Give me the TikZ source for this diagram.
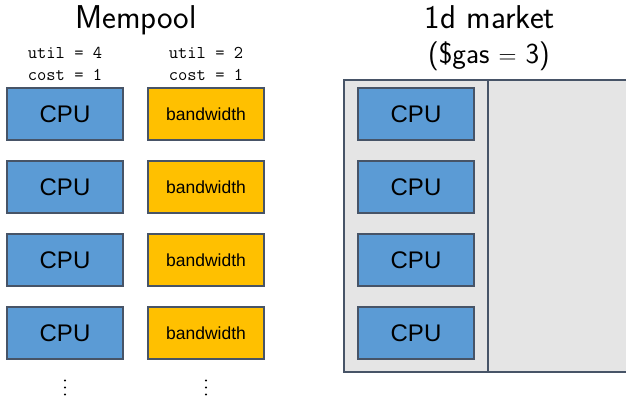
\documentclass[tikz,border=0pt]{standalone}
\usepackage{fontspec}
\newfontfamily\boxfont{Liberation Sans}
\definecolor{cpublue}{HTML}{5B9BD5}
\definecolor{bwyellow}{HTML}{FFC000}
\definecolor{edgec}{HTML}{475467}
\definecolor{mktgray}{HTML}{E5E5E5}
\tikzset{
  unitbox/.style={draw=edgec, line width=1.6pt, minimum width=116pt, minimum height=52pt, inner sep=0pt},
  cpubox/.style={unitbox, fill=cpublue, font=\boxfont\fontsize{24}{26}\selectfont},
  bwbox/.style={unitbox, fill=bwyellow, font=\boxfont\fontsize{17.5}{20}\selectfont},
  titletext/.style={font=\sffamily\fontsize{33}{36}\selectfont, inner sep=0pt, anchor=base},
  subtext/.style={font=\sffamily\fontsize{29}{31}\selectfont, inner sep=0pt, anchor=base},
  monotext/.style={font=\ttfamily\fontsize{18}{23}\selectfont, inner sep=0pt, anchor=base},
  dotmark/.style={fill=black},
  mktframe/.style={draw=edgec, line width=1.3pt, fill=mktgray}
}
\begin{document}
\begin{tikzpicture}[x=1pt,y=-1pt]
\useasboundingbox (0,0) rectangle (626,397);
\clip (0,0) rectangle (626,397);
% titles
\node[titletext] (mtitle) at (136,28) {Mempool};
\node[titletext] (ktitle) at (490,28) {1d market};
\node[subtext] (ksub) at (489,63) {(\$gas $=$ 3)};
\node[monotext] (u1) at (65,58) {util = 4};
\node[monotext] (c1) at (65,80) {cost = 1};
\node[monotext] (u2) at (206,58) {util = 2};
\node[monotext] (c2) at (206,80) {cost = 1};
% market frame
\draw[mktframe] (344,80) rectangle (640,372);
\draw[edgec, line width=1.3pt] (488,80) -- (488,372);
% rows
\foreach \i/\y in {1/114,2/187,3/260,4/333}{
  \node[cpubox] (cpu\i) at (65,\y) {CPU};
  \node[bwbox] (bw\i) at (206,\y) {bandwidth};
  \node[cpubox] (mcpu\i) at (416,\y) {CPU};
}
% continuation dots
\foreach \x in {65,206}{
  \foreach \y in {380.5,387.5,394.5}{
    \fill[dotmark] (\x,\y) circle (1.2pt);
  }
}
\end{tikzpicture}
\end{document}
